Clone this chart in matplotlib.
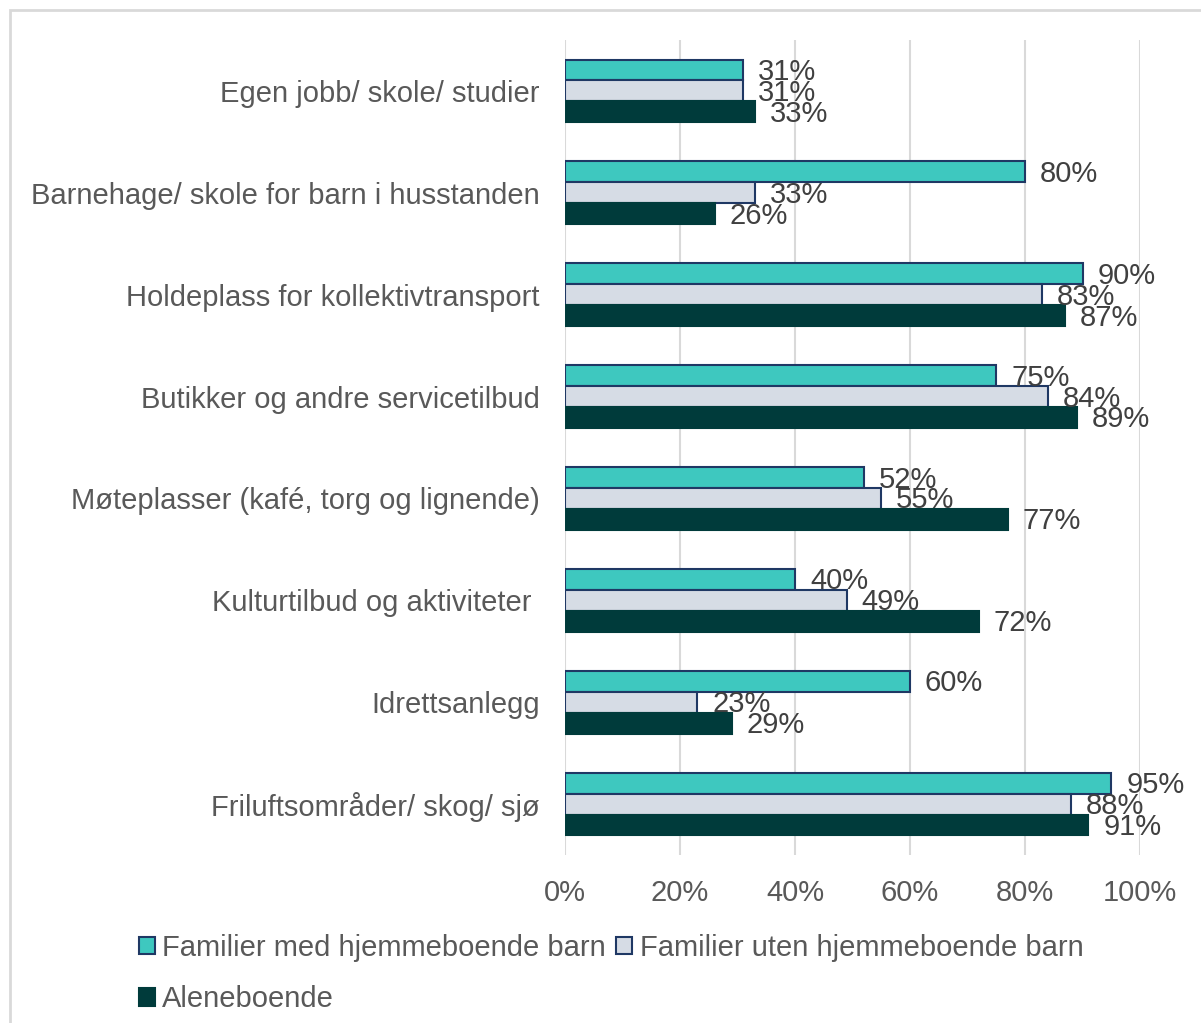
import matplotlib
matplotlib.use("Agg")
import matplotlib.pyplot as plt
from matplotlib.patches import Patch, Rectangle
import numpy as np

plt.rcParams['font.family'] = ['Liberation Sans', 'DejaVu Sans']

categories = [
    "Egen jobb/ skole/ studier",
    "Barnehage/ skole for barn i husstanden",
    "Holdeplass for kollektivtransport",
    "Butikker og andre servicetilbud",
    "Møteplasser (kafé, torg og lignende)",
    "Kulturtilbud og aktiviteter ",
    "Idrettsanlegg",
    "Friluftsområder/ skog/ sjø",
]
series_names = ["Familier med hjemmeboende barn", "Familier uten hjemmeboende barn", "Aleneboende"]
med_barn = [31, 80, 90, 75, 52, 40, 60, 95]
uten_barn = [31, 33, 83, 84, 55, 49, 23, 88]
aleneboende = [33, 26, 87, 89, 77, 72, 29, 91]
xticks = [0, 20, 40, 60, 80, 100]
xtick_labels = ["0%", "20%", "40%", "60%", "80%", "100%"]

colors = ["#3EC8BF", "#D6DCE5", "#003B3B"]
edges = ["#1F3864", "#1F3864", "#003B3B"]
text_color = "#595959"
FS = 21

fig = plt.figure(figsize=(12.01, 10.23), dpi=100)
# outer border
fig.patches.append(Rectangle((10/1201, -0.1), 1.2, 1 - 10/1023 + 0.1, transform=fig.transFigure,
                             fill=False, edgecolor="#D9D9D9", linewidth=2, clip_on=False))
ax = fig.add_axes([565/1201, 1 - 855/1023, 575/1201, 815/1023])

n = len(categories)
y = np.arange(n)
h = 0.205
all_series = [med_barn, uten_barn, aleneboende]
offsets = [-h, 0, h]
for vals, off, c, e, name in zip(all_series, offsets, colors, edges, series_names):
    ax.barh(y + off, vals, height=h, color=c, edgecolor=e, linewidth=1.5, label=name, zorder=3)
    for yi, v in zip(y, vals):
        ax.text(v + 2.6, yi + off + 0.02, f"{v}%", ha="left", va="center", fontsize=FS,
                color="#404040", zorder=4)

ax.set_ylim(n - 0.5, -0.5)
ax.set_xlim(0, 100)
ax.set_xticks(xticks)
ax.set_xticklabels(xtick_labels)
ax.set_yticks(y)
ax.set_yticklabels(categories)
ax.tick_params(axis='both', length=0, labelsize=FS, labelcolor=text_color)
ax.tick_params(axis='y', pad=18)
ax.tick_params(axis='x', pad=17)
ax.grid(axis='x', color="#D9D9D9", linewidth=1.5, zorder=0)
ax.set_axisbelow(True)
for s in ax.spines.values():
    s.set_visible(False)

handles = [Patch(facecolor=c, edgecolor=e, linewidth=1.5) for c, e in zip(colors, edges)]
order = [0, 2, 1]
fig.legend([handles[i] for i in order], [series_names[i] for i in order],
           loc="upper left", bbox_to_anchor=(139/1201, 1 - 934/1023),
           ncol=2, frameon=False, fontsize=FS, labelcolor=text_color,
           handlelength=0.55, handleheight=0.55, handletextpad=0.25, columnspacing=0.35,
           labelspacing=0.8, borderpad=0, borderaxespad=0)

fig.savefig("out.png", dpi=100)
